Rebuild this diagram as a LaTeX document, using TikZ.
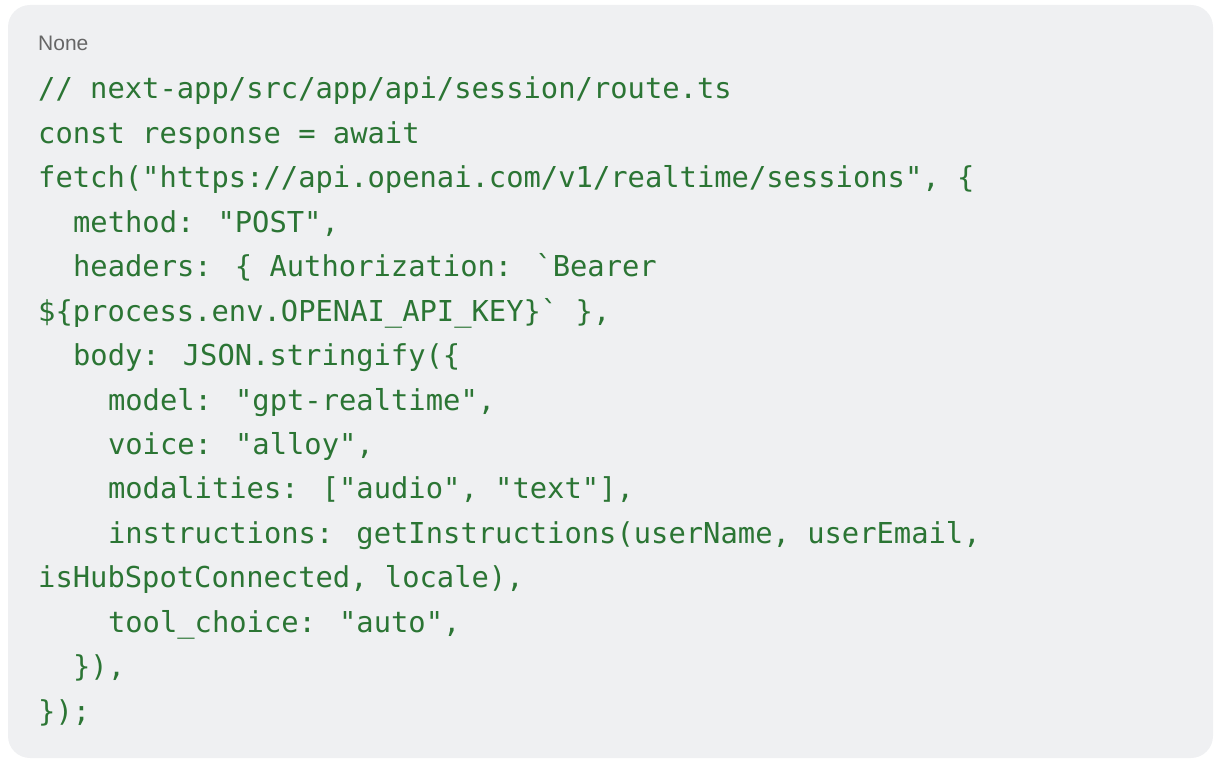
\documentclass[tikz,border=0pt]{standalone}
\usepackage{fontspec}
\newfontfamily\codef{DejaVu Sans Mono}
\newfontfamily\labf{Liberation Sans}
\definecolor{bg}{HTML}{EFF0F2}
\definecolor{codegreen}{HTML}{2B7534}
\definecolor{labgray}{HTML}{666666}
\begin{document}
\begin{tikzpicture}[x=1pt,y=-1pt,
  code/.style={anchor=base west,inner sep=0pt,text=codegreen,font=\codef\fontsize{28.8}{30}\selectfont},
  lab/.style={anchor=base west,inner sep=0pt,text=labgray,font=\labf\fontsize{21}{24}\selectfont}]
\useasboundingbox (0,0) rectangle (1232,770);
\fill[bg,rounded corners=22pt] (8,5) rectangle (1213,758);
\node[lab] (none) at (38,51) {None};
\def\cw{17.45}
\def\lh{44.43}
\newcommand\cl[3]{\node[code] (#1) at ({38+\cw*#2},{99+\lh*(#1-1)}) {#3};}
\cl{1}{0}{// next-app/src/app/api/session/route.ts}
\cl{2}{0}{const response = await}
\cl{3}{0}{fetch("https://api.openai.com/v1/realtime/sessions", \{}
\cl{4}{2}{method: "POST",}
\cl{5}{2}{headers: \{ Authorization: `Bearer}
\cl{6}{0}{\$\{process.env.OPENAI\_API\_KEY\}` \},}
\cl{7}{2}{body: JSON.stringify(\{}
\cl{8}{4}{model: "gpt-realtime",}
\cl{9}{4}{voice: "alloy",}
\cl{10}{4}{modalities: ["audio", "text"],}
\cl{11}{4}{instructions: getInstructions(userName, userEmail,}
\cl{12}{0}{isHubSpotConnected, locale),}
\cl{13}{4}{tool\_choice: "auto",}
\cl{14}{2}{\}),}
\cl{15}{0}{\});}
\end{tikzpicture}
\end{document}
